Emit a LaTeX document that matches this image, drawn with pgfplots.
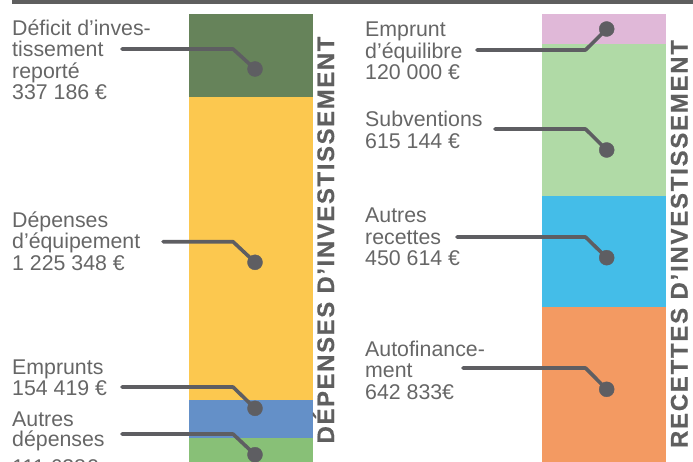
\documentclass[border=0pt]{standalone}
\usepackage{pgfplots}
\pgfplotsset{compat=1.18}
\usepackage{fontspec}
\setmainfont{Liberation Sans}
\definecolor{cDeficit}{HTML}{66835A}
\definecolor{cEquip}{HTML}{FCC84F}
\definecolor{cEmprunts}{HTML}{6490C8}
\definecolor{cAutresDep}{HTML}{88C077}
\definecolor{cEquilibre}{HTML}{E0B8D8}
\definecolor{cSubv}{HTML}{B0DAA6}
\definecolor{cAutresRec}{HTML}{44BDE8}
\definecolor{cAutofin}{HTML}{F39A62}
\definecolor{lineGray}{HTML}{5E5E62}
\definecolor{textGray}{HTML}{666666}
\definecolor{titleGray}{HTML}{5F5F5F}
\pgfplotsset{
  base/.style={width=693bp,height=462bp,scale only axis,xmin=0,xmax=693,hide axis},
  bars/.style={base,ymin=16182,ymax=1885228,ybar stacked,bar width=124},
  conn/.style={line width=3.6bp,color=lineGray,line cap=round,line join=round,mark=none},
  dot/.style={only marks,mark=*,mark size=7.5bp,color=lineGray,mark options={fill=lineGray,draw=none}},
}
\newcommand{\lab}{\fontsize{21.4}{21.4}\selectfont\color{textGray}}
\newcommand{\ttlL}{\fontsize{24}{24}\selectfont\bfseries\color{titleGray}\addfontfeatures{LetterSpace=6.8,FakeBold=0.5}}
\newcommand{\ttlR}{\fontsize{24}{24}\selectfont\bfseries\color{titleGray}\addfontfeatures{LetterSpace=7.5,FakeBold=0.5}}
\begin{document}
\begin{tikzpicture}
% ---- Dépenses (left bar), bottom to top
\begin{axis}[bars]
\addplot[fill=cAutresDep,draw=none] coordinates {(251,111638)};
\addplot[fill=cEmprunts,draw=none] coordinates {(251,154419)};
\addplot[fill=cEquip,draw=none] coordinates {(251,1225348)};
\addplot[fill=cDeficit,draw=none] coordinates {(251,337186)};
\end{axis}
% ---- Recettes (right bar), bottom to top
\begin{axis}[bars]
\addplot[fill=cAutofin,draw=none] coordinates {(603.5,642833)};
\addplot[fill=cAutresRec,draw=none] coordinates {(603.5,450614)};
\addplot[fill=cSubv,draw=none] coordinates {(603.5,615144)};
\addplot[fill=cEquilibre,draw=none] coordinates {(603.5,120000)};
\end{axis}
% ---- annotations (pixel frame)
\begin{axis}[base,ymin=0,ymax=462,y dir=reverse,clip=false]
\fill[titleGray] (axis cs:12,0) rectangle (axis cs:693,4);
% connectors left
\addplot[conn] coordinates {(122,49) (233,49) (255,69)};
\addplot[conn] coordinates {(163,241.7) (233,241.7) (255,262.3)};
\addplot[conn] coordinates {(122,387) (233,387) (255,408.3)};
\addplot[conn] coordinates {(122,434) (233,434) (255,454.7)};
\addplot[dot] coordinates {(255,69) (255,262.3) (255,408.3) (255,454.7)};
% connectors right
\addplot[conn] coordinates {(477,50) (585.5,50) (606.7,29)};
\addplot[conn] coordinates {(495,129) (585.5,129) (606.7,150)};
\addplot[conn] coordinates {(457,237) (585.5,237) (606.7,257.7)};
\addplot[conn] coordinates {(463,368) (585.5,368) (606.7,389.3)};
\addplot[dot] coordinates {(606.7,29) (606.7,150) (606.7,257.7) (606.7,389.3)};
% labels left
\begin{scope}[every node/.style={anchor=base west,inner sep=0pt,font=\lab}]
\node at (axis cs:12,35.5) {Déficit d’inves-};
\node at (axis cs:12,57) {tissement};
\node at (axis cs:12,78.5) {reporté};
\node at (axis cs:12,100) {337 186 €};
\node at (axis cs:12,227) {Dépenses};
\node at (axis cs:12,248.5) {d’équipement};
\node at (axis cs:12,270) {1 225 348 €};
\node at (axis cs:12,374) {Emprunts};
\node at (axis cs:12,395) {154 419 €};
\node at (axis cs:12,426) {Autres};
\node at (axis cs:12,446.5) {dépenses};
\node at (axis cs:12,474) {111 638€};
% labels right
\node at (axis cs:365,37) {Emprunt};
\node at (axis cs:365,59) {d’équilibre};
\node at (axis cs:365,80) {120 000 €};
\node at (axis cs:365,127) {Subventions};
\node at (axis cs:365,148.3) {615 144 €};
\node at (axis cs:365,222.7) {Autres};
\node at (axis cs:365,244) {recettes};
\node at (axis cs:365,265.7) {450 614 €};
\node at (axis cs:365,356) {Autofinance-};
\node at (axis cs:365,377.3) {ment};
\node at (axis cs:365,399.3) {642 833€};
\end{scope}
% vertical titles
\node[rotate=90,anchor=base,inner sep=0pt,font=\ttlL] at (axis cs:334,240) {DÉPENSES D’INVESTISSEMENT};
\node[rotate=90,anchor=base,inner sep=0pt,font=\ttlR] at (axis cs:687.5,244) {RECETTES D’INVESTISSEMENT};
\end{axis}
\pgfresetboundingbox
\path[use as bounding box] (current axis.south west) rectangle (current axis.north east);
\end{tikzpicture}
\end{document}
